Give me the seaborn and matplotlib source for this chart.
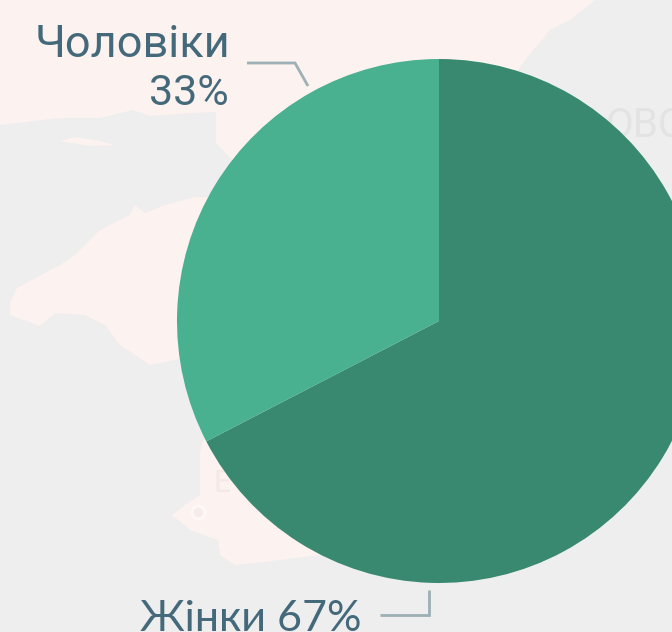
import matplotlib
matplotlib.use("Agg")
import matplotlib.pyplot as plt
import seaborn as sns

# Data
categories = ["Жінки", "Чоловіки"]
shares = [67.4, 32.6]
share_labels = ["67%", "33%"]
slice_colors = ["#38896F", "#49B190"]

# Style
BG = "#EEEEEE"
LAND = "#FCF2EF"
TEXT = "#44697A"
LEADER = "#9DB0B5"
W, H = 672, 632

sns.set_theme(style="white")
plt.rcParams["font.family"] = ["Roboto", "Lato", "DejaVu Sans"]

fig = plt.figure(figsize=(W / 100, H / 100), dpi=100, facecolor=BG)
ax = fig.add_axes([0, 0, 1, 1])
ax.set_facecolor(BG)


def fy(y):
    return H - y


def land(points, color=LAND, z=1):
    ax.fill([p[0] for p in points], [fy(p[1]) for p in points], color=color, lw=0, zorder=z)


# Faint map behind the chart
land([(0, 0), (595, 0), (570, 20), (550, 30), (525, 60), (515, 75), (439, 200), (232, 160),
      (216, 143), (216, 112), (190, 113), (150, 116), (133, 110), (100, 118), (60, 118),
      (25, 122), (0, 125)])
land([(60, 141), (75, 137), (95, 140), (115, 145), (90, 146)])
land([(10, 303), (17, 288), (60, 265), (75, 255), (100, 230), (130, 215), (135, 205),
      (145, 213), (165, 205), (195, 197), (260, 200), (260, 340), (180, 358), (175, 360),
      (150, 365), (120, 345), (105, 325), (85, 315), (55, 313), (40, 326), (10, 315)])
land([(203, 440), (300, 440), (320, 555), (280, 560), (235, 565), (220, 555), (218, 540),
      (190, 530), (172, 515), (185, 505), (200, 495), (200, 452)])
ax.scatter([198], [fy(512)], s=130, color="#FDF8F6", lw=0, zorder=1.5)
ax.scatter([198], [fy(512)], s=50, color="#F6ECE9", lw=0, zorder=1.6)
ax.text(214, fy(492), "Е", fontsize=22, color="#F5E9E6", zorder=1.7)
ax.text(606, fy(137), "ОВС", fontsize=29, color="#E3E3E3", zorder=1.7)

# Pie
ax.pie(shares, colors=slice_colors, startangle=90, counterclock=False,
       center=(439, fy(321)), radius=262, frame=True,
       wedgeprops=dict(linewidth=0, zorder=3))
for w in ax.patches[-2:]:
    w.set_zorder(3)

ax.set_xlim(0, W)
ax.set_ylim(0, H)
ax.set_aspect("equal")
ax.axis("off")

# Leaders
ax.plot([247, 295, 308], [fy(63), fy(63), fy(86)], color=LEADER, lw=2.0, zorder=4,
        solid_joinstyle="miter", solid_capstyle="butt")
ax.plot([380, 429, 429], [fy(615), fy(615), fy(590)], color=LEADER, lw=2.0, zorder=4,
        solid_joinstyle="miter", solid_capstyle="butt")

# Labels
ax.text(230, fy(57), categories[1], fontsize=32.5, color=TEXT, ha="right", va="baseline",
        fontfamily="Roboto", zorder=5)
ax.text(229, fy(105), share_labels[1], fontsize=31, color=TEXT, ha="right", va="baseline",
        fontfamily="Roboto", zorder=5)
ax.text(362, fy(631), categories[0] + " " + share_labels[0], fontsize=31, color=TEXT,
        ha="right", va="baseline", fontfamily="Lato", zorder=5)

fig.savefig("out.png", dpi=100, facecolor=BG)
